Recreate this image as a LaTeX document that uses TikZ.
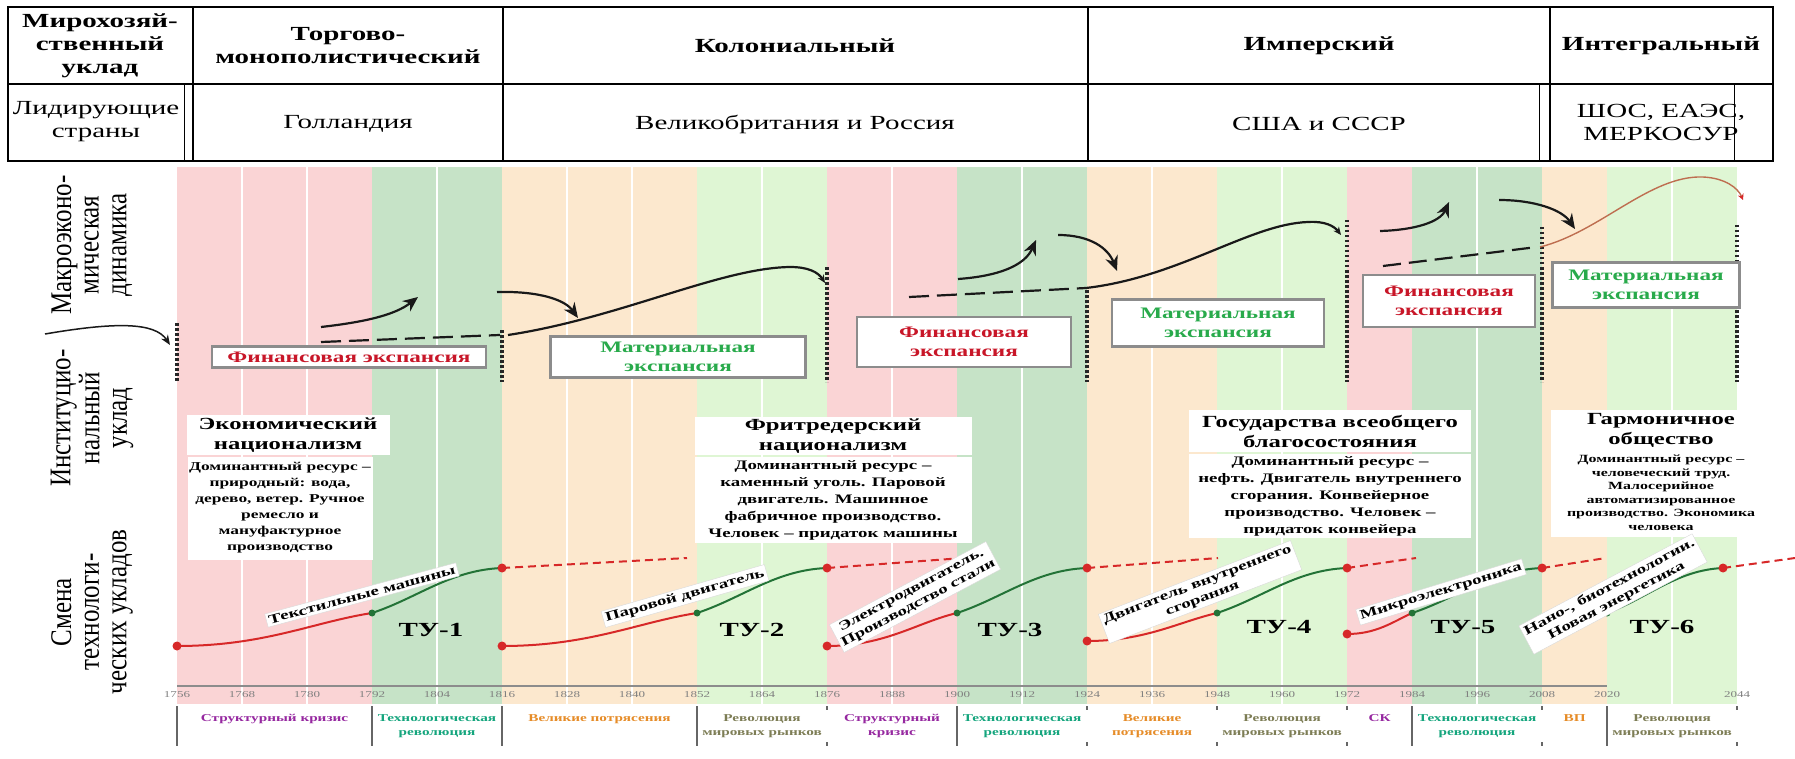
\documentclass[tikz,border=0pt]{standalone}
\usepackage{fontspec}
\setmainfont{Liberation Serif}[FakeStretch=1.45]
\newfontfamily\sidefont{Liberation Serif}
\usepackage{graphicx}
\usetikzlibrary{arrows.meta}

\definecolor{crisisband}{RGB}{250,212,213}
\definecolor{techband}{RGB}{198,227,199}
\definecolor{shockband}{RGB}{252,232,206}
\definecolor{marketband}{RGB}{223,246,212}
\definecolor{finred}{RGB}{200,22,40}
\definecolor{matgreen}{RGB}{40,170,75}
\definecolor{tured}{RGB}{215,40,40}
\definecolor{tugreen}{RGB}{35,115,55}
\definecolor{crisistext}{RGB}{150,40,160}
\definecolor{techtext}{RGB}{20,165,125}
\definecolor{shocktext}{RGB}{230,140,40}
\definecolor{markettext}{RGB}{125,125,85}
\definecolor{trendbrown}{RGB}{190,110,80}

% year -> x position
\pgfmathdeclarefunction{yr}{1}{\pgfmathparse{177+5.417*(#1-1756)}}

\begin{document}
\begin{tikzpicture}[x=1pt, y=-1pt,
        cell/.style={
            % Font
            font=\fontsize{20}{23}\selectfont,
            align=center
        },
        cellhead/.style={cell, font=\bfseries\fontsize{20}{23}\selectfont},
        sidelabel/.style={rotate=90, font=\sidefont\fontsize{25}{23}\selectfont},
        phaseline/.style={line width=3.5, dash pattern=on 2.5pt off 2.5pt, black!85},
        trend/.style={line width=2.2, black!90},
        growth/.style={trend, -{Stealth[length=15pt, width=13pt]}},
        expbox/.style={
            % The shape:
            rectangle,
            % The border
            draw=black!45, line width=2.5,
            % The filling
            fill=white,
            % Font
            font=\bfseries\fontsize{16}{19}\selectfont,
            align=center, inner sep=2
        },
        insttitle/.style={fill=white, font=\bfseries\fontsize{17}{20}\selectfont, align=center, inner sep=1},
        instbody/.style={fill=white, font=\bfseries\fontsize{13}{17}\selectfont, align=center, inner sep=1},
        curvelabel/.style={fill=white, draw=black!15, font=\bfseries\fontsize{13}{15}\selectfont, align=center, inner sep=2.5},
        tulabel/.style={font=\bfseries\fontsize{20}{22}\selectfont},
        tuline/.style={line width=2},
        yearlabel/.style={font=\fontsize{9}{10}\selectfont, text=black!50},
        phasename/.style={font=\bfseries\fontsize{10.5}{14}\selectfont, align=center, anchor=north},
        phasebar/.style={line width=2, black!60},
        phasetick/.style={line width=1.5, black!60}
    ]

    \useasboundingbox (0,0) rectangle (1795,759);
    \fill[white] (0,0) rectangle (1795,759);

    % bands of the phases
    \foreach \ya/\yb/\col in {1756/1792/crisisband, 1792/1816/techband, 1816/1852/shockband, 1852/1876/marketband,
        1876/1900/crisisband, 1900/1924/techband, 1924/1948/shockband, 1948/1972/marketband,
        1972/1984/crisisband, 1984/2008/techband, 2008/2020/shockband, 2020/2044/marketband}
    {
        \fill[\col] ({yr(\ya)},167) rectangle ({yr(\yb)},704);
    }
    \foreach \y in {1768,1780,1804,1828,1840,1864,1888,1912,1936,1960,1996,2032}
        \draw[white, line width=2] ({yr(\y)},167) -- ({yr(\y)},704);

    % table
    \draw[line width=1.5] (8,7) rectangle (1773,161);
    \draw[line width=1.5] (8,84) -- (1773,84);
    \foreach \x in {193,503,1088,1550}
        \draw[line width=1.5] (\x,7) -- (\x,161);
    \foreach \x in {184,1539,1734}
        \draw[line width=0.8] (\x,84) -- (\x,161);

    \node[cellhead] (hdrLeft) at (100,46) {Мирохозяй-\\ственный\\уклад};
    \node[cellhead] (hdrTrade) at (348,46) {Торгово-\\монополистический};
    \node[cellhead] (hdrColony) at (795,46) {Колониальный};
    \node[cellhead] (hdrEmpire) at (1319,46) {Имперский};
    \node[cellhead] (hdrIntegral) at (1661,46) {Интегральный};
    \node[cell] (rowLeft) at (96,122) {Лидирующие\\страны};
    \node[cell] (rowTrade) at (348,124) {Голландия};
    \node[cell] (rowColony) at (795,124) {Великобритания и Россия};
    \node[cell] (rowEmpire) at (1319,124) {США и СССР};
    \node[cell] (rowIntegral) at (1661,122) {ШОС, ЕАЭС,\\МЕРКОСУР};

    % side titles
    \node[sidelabel] (sideMacro) at (93,245) {\scalebox{1}[1.2]{\begin{tabular}{@{}c@{}}Макроэконо-\\мическая\\динамика\end{tabular}}};
    \node[sidelabel] (sideInst) at (93,418) {\scalebox{1}[1.2]{\begin{tabular}{@{}c@{}}Институцио-\\нальный\\уклад\end{tabular}}};
    \node[sidelabel] (sideTech) at (93,612) {\scalebox{1}[1.2]{\begin{tabular}{@{}c@{}}Смена\\технологи-\\ческих укладов\end{tabular}}};
    \draw[trend, line width=1.5, -{Stealth[length=10pt, width=8pt]}] (45,334) .. controls (115,322) and (155,322) .. (170,345);

    % borders of the cycles
    \foreach \y/\top in {1756/323, 1816/330, 1876/267, 1924/290, 1972/220, 2008/227, 2044/225}
        \draw[phaseline] ({yr(\y)},\top) -- ({yr(\y)},382);

    % macroeconomic dynamics
    \draw[trend, dash pattern=on 20pt off 8pt] (321,342) -- (500,335);
    \draw[growth] (321,327) .. controls (365,322) and (395,315) .. (418,297);
    \draw[growth] (497,292) .. controls (540,291) and (565,300) .. (578,318);
    \draw[trend, -{Stealth[length=8pt, width=7pt]}] (508,335) .. controls (620,318) and (720,268) .. (790,267) .. controls (808,267) and (818,272) .. (825,283);

    \draw[trend, dash pattern=on 20pt off 8pt] (909,297) -- (1086,288);
    \draw[growth] (958,279) .. controls (1000,276) and (1025,265) .. (1036,240);
    \draw[growth] (1058,235) .. controls (1090,235) and (1108,248) .. (1117,271);
    \draw[trend, -{Stealth[length=8pt, width=7pt]}] (1086,288) .. controls (1180,277) and (1250,224) .. (1308,222) .. controls (1325,221) and (1334,226) .. (1341,235);

    \draw[trend, dash pattern=on 18pt off 8pt] (1383,266) -- (1537,247);
    \draw[growth] (1380,231) .. controls (1415,230) and (1440,222) .. (1449,202);
    \draw[growth] (1499,200) .. controls (1535,200) and (1562,210) .. (1575,229);
    \draw[line width=1.4, trendbrown, -{Stealth[length=6pt, width=6pt, color=tured]}] (1540,247) .. controls (1600,232) and (1650,175) .. (1703,177) .. controls (1725,178) and (1738,188) .. (1743,200);

    % expansions
    \node[expbox, text=finred, minimum width=274, minimum height=21] (fin1) at (349,357) {Финансовая экспансия};
    \node[expbox, text=matgreen, minimum width=255, minimum height=41] (mat1) at (678,357) {Материальная\\экспансия};
    \node[expbox, text=finred, minimum width=214, minimum height=50] (fin2) at (964,342) {Финансовая\\экспансия};
    \node[expbox, text=matgreen, minimum width=212, minimum height=47] (mat2) at (1218,323) {Материальная\\экспансия};
    \node[expbox, text=finred, minimum width=172, minimum height=52] (fin3) at (1449,301) {Финансовая\\экспансия};
    \node[expbox, text=matgreen, minimum width=187, minimum height=45] (mat3) at (1646,285) {Материальная\\экспансия};

    % institutional orders
    \node[insttitle, minimum width=203, minimum height=40] (ecoTitle) at (288,435) {Экономический\\национализм};
    \node[instbody, font=\bfseries\fontsize{12}{16}\selectfont, minimum width=185, minimum height=103] (ecoBody) at (280,508)
        {Доминантный ресурс –\\природный: вода,\\дерево, ветер. Ручное\\ремесло и\\мануфактурное\\производство};
    \node[insttitle, minimum width=277, minimum height=38] (freeTitle) at (833,436) {Фритредерский\\национализм};
    \node[instbody, minimum width=277, minimum height=86] (freeBody) at (833,500)
        {Доминантный ресурс –\\каменный уголь. Паровой\\двигатель. Машинное\\фабричное производство.\\Человек – придаток машины};
    \node[insttitle, minimum width=282, minimum height=42] (welfTitle) at (1330,431) {Государства всеобщего\\благосостояния};
    \node[instbody, minimum width=282, minimum height=84] (welfBody) at (1330,496)
        {Доминантный ресурс –\\нефть. Двигатель внутреннего\\сгорания. Конвейерное\\производство. Человек –\\придаток конвейера};
    \node[insttitle, minimum width=220, minimum height=40] (harmTitle) at (1661,430) {Гармоничное\\общество};
    \node[instbody, font=\bfseries\fontsize{11}{13.5}\selectfont, minimum width=220, minimum height=87] (harmBody) at (1661,493)
        {Доминантный ресурс –\\человеческий труд.\\Малосерийное\\автоматизированное\\производство. Экономика\\человека};

    % technological orders
    \foreach \tu/\ystart/\ymid/\yend/\hstart/\dashx in {1/1756/1792/1816/646/687, 2/1816/1852/1876/646/963,
        3/1876/1900/1924/646/1218, 4/1924/1948/1972/641/1416, 5/1972/1984/2008/634/1606, 6/2008/2020/2041.4/637/1795}
    {
        \pgfmathsetmacro\xs{yr(\ystart)}
        \pgfmathsetmacro\xm{yr(\ymid)}
        \pgfmathsetmacro\xe{yr(\yend)}
        \draw[tuline, tured] (\xs,\hstart) .. controls ({\xs+0.45*(\xm-\xs)},\hstart) and ({\xm-0.3*(\xm-\xs)},622) .. (\xm,613);
        \draw[tuline, tugreen] (\xm,613) .. controls ({\xm+0.35*(\xe-\xm)},598) and ({\xe-0.4*(\xe-\xm)},570) .. (\xe,568);
        \draw[tuline, tured, dash pattern=on 8pt off 5pt] (\xe,568) -- (\dashx,558);
        \fill[tured] (\xs,\hstart) circle[radius=4.5];
        \fill[tured] (\xe,568) circle[radius=4.5];
        \fill[tugreen] (\xm,613) circle[radius=3.5];
    }

    \node[curvelabel, rotate=15] (texLabel) at (362,595) {Текстильные машины};
    \node[curvelabel, rotate=16] (steamLabel) at (685,596) {Паровой двигатель};
    \node[curvelabel, rotate=28] (elecLabel) at (915,597) {Электродвигатель.\\Производство стали};
    \node[curvelabel, rotate=21] (iceLabel) at (1200,592) {Двигатель внутреннего\\сгорания};
    \node[curvelabel, rotate=17] (microLabel) at (1441,592) {Микроэлектроника};
    \node[curvelabel, rotate=28] (nanoLabel) at (1613,594) {Нано-, биотехнологии.\\Новая энергетика};

    \foreach \tu/\x/\y in {1/431/630, 2/752/630, 3/1010/630, 4/1279/627, 5/1463/627, 6/1662/627}
        \node[tulabel] (tu\tu) at (\x,\y) {ТУ-\tu};

    % time axis
    \draw[black!45, line width=1.3] ({yr(1756)},686) -- ({yr(2020)},686);
    \foreach \y in {1756,1768,...,2020}
        \node[yearlabel] (year\y) at ({yr(\y)},695) {\y};
    \node[yearlabel] (year2044) at ({yr(2044)},695) {2044};

    \foreach \y in {1756,1792,1816,1852,1900,1984,2020}
        \draw[phasebar] ({yr(\y)},706) -- ({yr(\y)},746);
    \foreach \y in {1876,1924,1948,1972,2008,2044}
    {
        \draw[phasetick] ({yr(\y)},706) -- ({yr(\y)},710);
        \draw[phasetick] ({yr(\y)},742) -- ({yr(\y)},746);
    }

    \foreach \ya/\yb/\col/\txt in {1756/1792/crisistext/{Структурный кризис}, 1792/1816/techtext/{Технологическая\\революция},
        1816/1852/shocktext/{Великие потрясения}, 1852/1876/markettext/{Революция\\мировых рынков},
        1876/1900/crisistext/{Структурный\\кризис}, 1900/1924/techtext/{Технологическая\\революция},
        1924/1948/shocktext/{Великие\\потрясения}, 1948/1972/markettext/{Революция\\мировых рынков},
        1972/1984/crisistext/{СК}, 1984/2008/techtext/{Технологическая\\революция},
        2008/2020/shocktext/{ВП}, 2020/2044/markettext/{Революция\\мировых рынков}}
    {
        \node[phasename, text=\col] (phase\ya) at ({(yr(\ya)+yr(\yb))/2},711) {\txt};
    }

\end{tikzpicture}
\end{document}
